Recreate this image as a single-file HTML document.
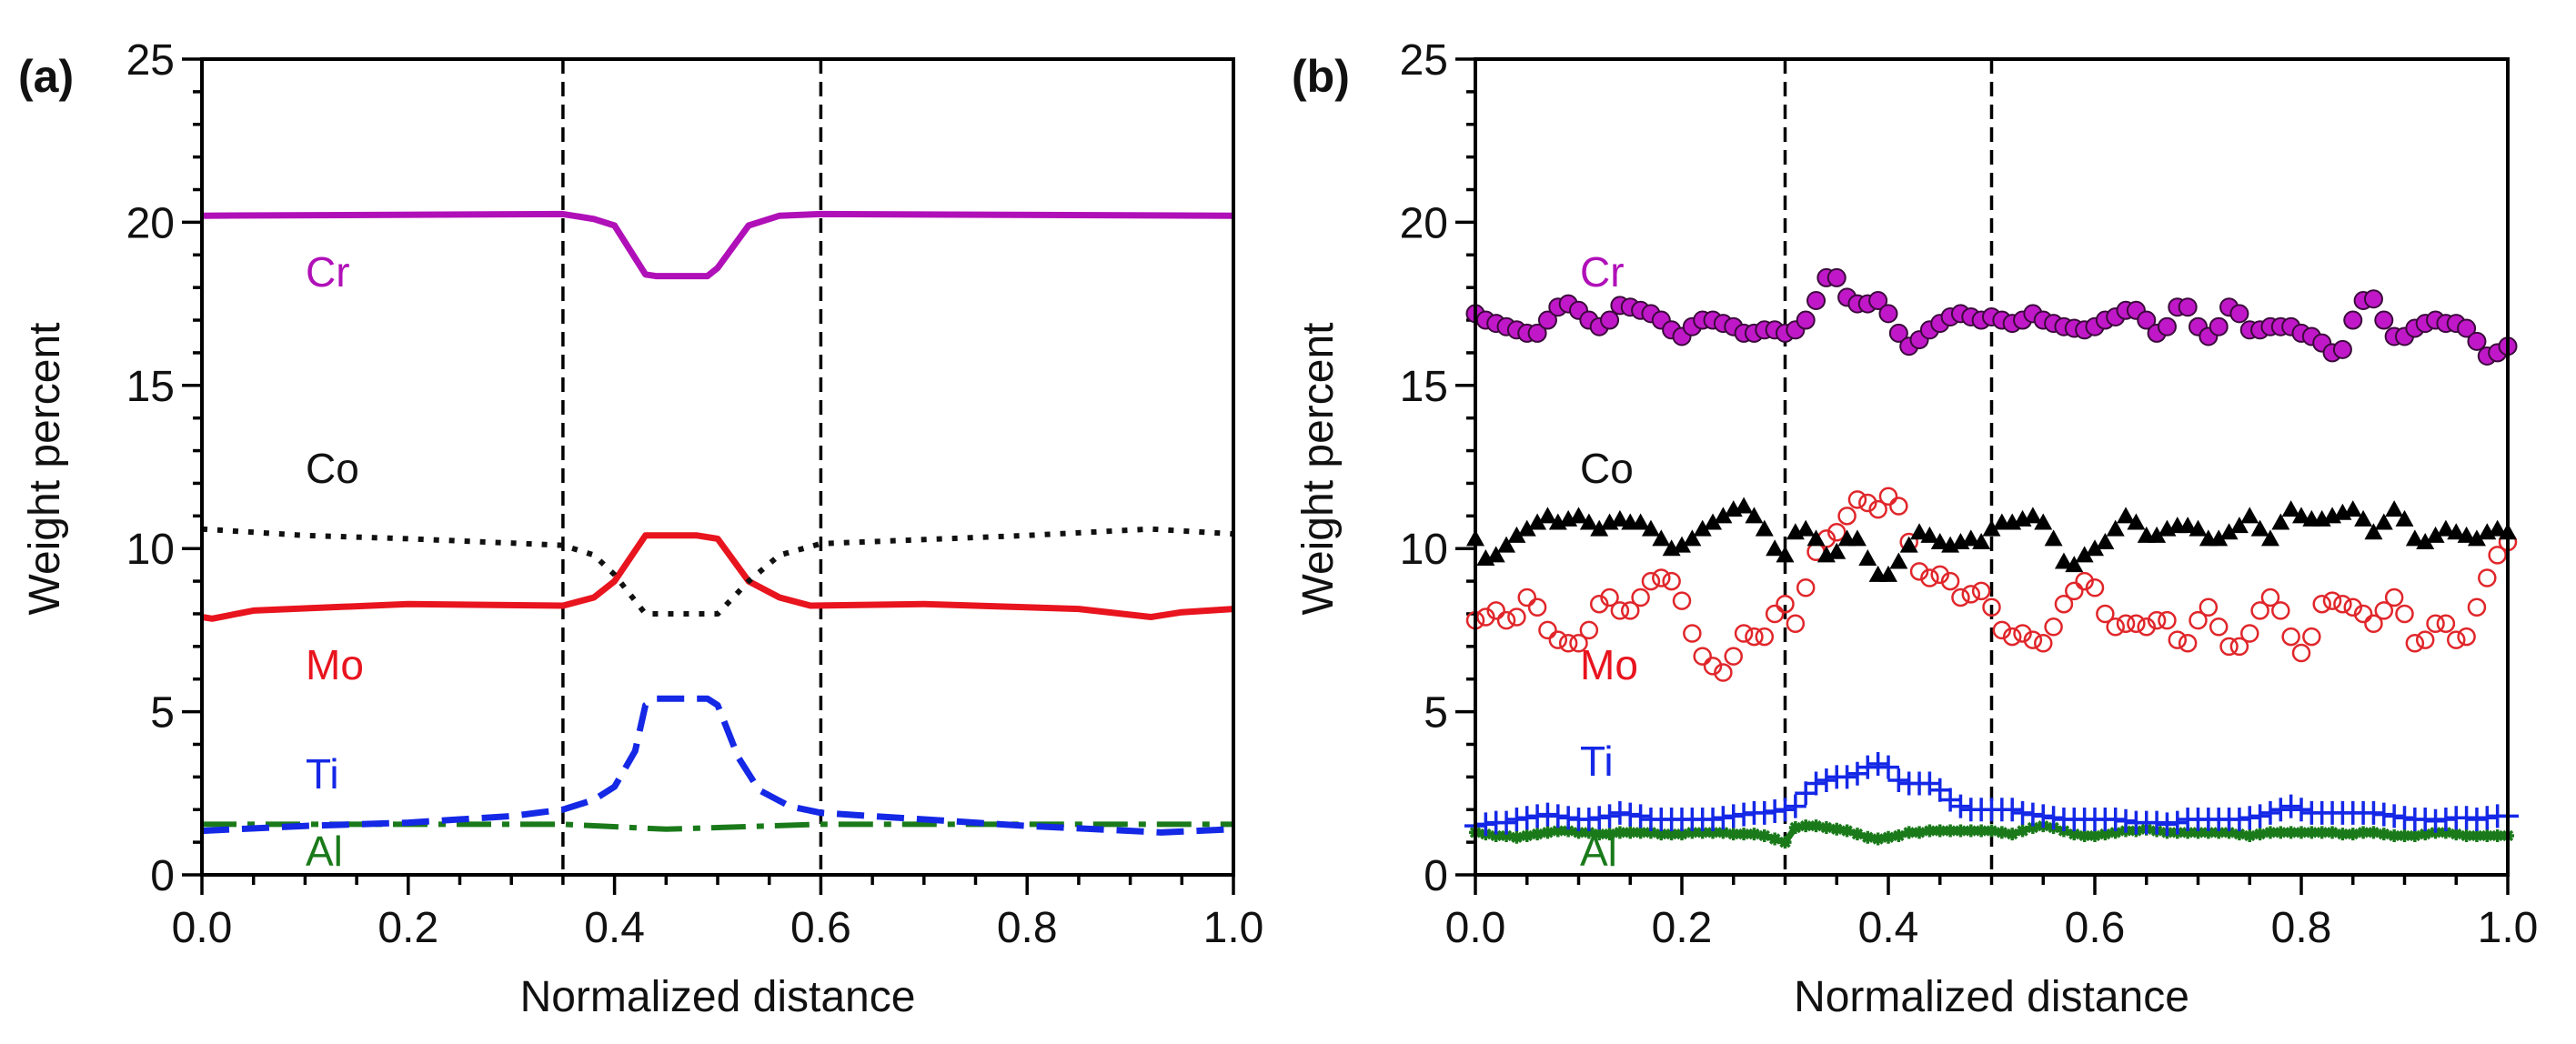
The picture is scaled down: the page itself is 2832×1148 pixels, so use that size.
<!DOCTYPE html>
<html><head><meta charset="utf-8"><style>
html,body{margin:0;padding:0;background:#fff;}
svg{display:block;font-family:"Liberation Sans",Arial,sans-serif;}
</style></head><body>
<svg id="fig" width="2832" height="1148" viewBox="0 0 2832 1148" xmlns="http://www.w3.org/2000/svg">
<g id="pa"></g>
<g id="pb"></g>
</svg>
<script>
// ---- Panel (a) data ----
const aCrX=[0,0.35,0.38,0.40,0.43,0.44,0.49,0.50,0.53,0.56,0.60,1.0];
const aCrY=[20.2,20.25,20.1,19.9,18.4,18.35,18.35,18.6,19.9,20.2,20.25,20.2];
const aCoX=[0,0.1,0.2,0.35,0.38,0.40,0.43,0.50,0.53,0.56,0.60,0.8,0.92,1.0];
const aCoY=[10.6,10.4,10.3,10.1,9.8,9.2,8.0,8.0,9.0,9.8,10.15,10.4,10.6,10.45];
const aMoX=[0,0.01,0.05,0.2,0.35,0.38,0.40,0.43,0.48,0.50,0.53,0.56,0.59,0.7,0.85,0.92,0.95,1.0];
const aMoY=[7.9,7.85,8.1,8.3,8.25,8.5,9.0,10.4,10.4,10.3,9.0,8.5,8.25,8.3,8.15,7.9,8.05,8.15];
const aTiX=[0,0.1,0.2,0.3,0.35,0.38,0.40,0.42,0.43,0.44,0.49,0.50,0.52,0.54,0.57,0.60,0.7,0.8,0.9,0.93,1.0];
const aTiY=[1.35,1.5,1.6,1.8,2.0,2.3,2.7,3.8,5.2,5.4,5.4,5.2,3.6,2.6,2.1,1.9,1.7,1.5,1.35,1.3,1.4];
const aAlX=[0,0.35,0.45,0.50,0.60,1.0];
const aAlY=[1.55,1.55,1.4,1.45,1.55,1.55];
const aBounds=[0.35,0.6];
// ---- Panel (b) data (x step 0.01, 0..1) ----
const bCr=[17.2,17.0,16.9,16.8,16.7,16.6,16.6,17.0,17.4,17.5,17.3,17.0,16.8,17.0,17.45,17.4,17.3,17.2,17.0,16.7,16.5,16.8,17.0,17.0,16.9,16.8,16.6,16.6,16.7,16.7,16.6,16.7,17.0,17.6,18.3,18.3,17.7,17.5,17.5,17.6,17.2,16.6,16.2,16.4,16.7,16.9,17.1,17.2,17.1,17.0,17.1,17.0,16.9,17.0,17.2,17.0,16.9,16.8,16.75,16.7,16.8,17.0,17.1,17.3,17.3,17.0,16.6,16.8,17.4,17.4,16.8,16.5,16.8,17.4,17.2,16.7,16.7,16.8,16.8,16.8,16.6,16.5,16.3,16.0,16.1,17.0,17.6,17.65,17.0,16.5,16.5,16.75,16.9,17.0,16.9,16.9,16.75,16.35,15.9,16.0,16.2];
const bCo=[10.3,9.7,9.8,10.1,10.4,10.6,10.8,11.0,10.8,10.9,11.0,10.8,10.6,10.8,10.9,10.8,10.8,10.6,10.3,10.0,10.1,10.3,10.6,10.8,11.0,11.2,11.3,11.0,10.6,10.0,9.8,10.5,10.6,10.3,9.8,9.9,10.3,10.3,9.7,9.2,9.2,9.6,10.1,10.5,10.4,10.2,10.1,10.2,10.3,10.2,10.6,10.8,10.8,10.9,11.0,10.8,10.3,9.6,9.5,9.8,10.0,10.2,10.6,11.0,10.8,10.4,10.4,10.6,10.7,10.7,10.6,10.3,10.3,10.5,10.7,11.0,10.6,10.3,10.8,11.2,11.0,10.9,10.9,11.0,11.1,11.2,10.9,10.5,10.8,11.2,10.9,10.3,10.2,10.4,10.6,10.5,10.4,10.3,10.5,10.6,10.5];
const bMo=[7.8,7.9,8.1,7.8,7.9,8.5,8.2,7.5,7.2,7.1,7.1,7.5,8.3,8.5,8.1,8.1,8.5,9.0,9.1,9.0,8.4,7.4,6.7,6.4,6.2,6.7,7.4,7.3,7.3,8.0,8.3,7.7,8.8,9.9,10.3,10.5,11.0,11.5,11.4,11.2,11.6,11.3,10.2,9.3,9.1,9.2,9.0,8.5,8.6,8.7,8.2,7.5,7.3,7.4,7.2,7.1,7.6,8.3,8.7,9.0,8.8,8.0,7.6,7.7,7.7,7.6,7.8,7.8,7.2,7.1,7.8,8.2,7.6,7.0,7.0,7.4,8.1,8.5,8.1,7.3,6.8,7.3,8.3,8.4,8.3,8.2,8.0,7.7,8.1,8.5,8.0,7.1,7.2,7.7,7.7,7.2,7.3,8.2,9.1,9.8,10.2];
const bTi=[1.5,1.55,1.6,1.6,1.7,1.75,1.8,1.85,1.8,1.75,1.7,1.7,1.75,1.8,1.9,1.85,1.8,1.7,1.7,1.7,1.7,1.7,1.7,1.7,1.75,1.8,1.85,1.9,1.9,1.95,2.0,2.1,2.5,2.8,2.9,3.0,3.0,3.1,3.3,3.4,3.3,2.9,2.8,2.8,2.8,2.6,2.3,2.1,2.0,2.0,2.0,2.0,2.0,1.9,1.85,1.8,1.75,1.7,1.7,1.7,1.7,1.7,1.7,1.65,1.6,1.6,1.6,1.55,1.6,1.7,1.7,1.7,1.7,1.7,1.7,1.75,1.8,1.9,2.0,2.1,2.0,1.9,1.9,1.9,1.9,1.9,1.9,1.9,1.85,1.8,1.75,1.7,1.7,1.65,1.7,1.75,1.75,1.7,1.75,1.8,1.8];
const bAl=[1.3,1.25,1.2,1.2,1.15,1.2,1.25,1.3,1.35,1.35,1.3,1.3,1.25,1.25,1.3,1.3,1.3,1.3,1.25,1.25,1.25,1.3,1.3,1.3,1.3,1.25,1.25,1.25,1.2,1.1,1.0,1.45,1.5,1.5,1.45,1.4,1.35,1.25,1.15,1.1,1.15,1.2,1.3,1.3,1.35,1.35,1.35,1.35,1.35,1.35,1.35,1.3,1.25,1.35,1.45,1.5,1.45,1.35,1.25,1.2,1.2,1.25,1.3,1.35,1.35,1.4,1.35,1.3,1.3,1.3,1.3,1.3,1.3,1.3,1.25,1.2,1.25,1.3,1.3,1.3,1.3,1.3,1.3,1.3,1.25,1.25,1.3,1.3,1.25,1.2,1.2,1.2,1.25,1.3,1.3,1.25,1.2,1.2,1.2,1.2,1.2];
const bBounds=[0.3,0.5];
const yTicks=["0","5","10","15","20","25"];
const xTicks=["0.0","0.2","0.4","0.6","0.8","1.0"];

const NS="http://www.w3.org/2000/svg";
function mk(parent,tag,attrs,text){const e=document.createElementNS(NS,tag);for(const k in attrs)e.setAttribute(k,attrs[k]);if(text!==undefined)e.textContent=text;parent.appendChild(e);return e;}
const Y0=962,Y25=65;
function ys(v){return Y0+(Y25-Y0)*v/25;}
function axes(g,x0,x1,letter,bounds){
  const xs=v=>x0+(x1-x0)*v;
  // ticks
  for(let i=0;i<=25;i++){const major=i%5===0;const t=mk(g,'line',{x1:x0-(major?22:10),x2:x0,y1:ys(i),y2:ys(i),stroke:'#000','stroke-width':3.5});
    
    }
  for(let i=0;i<=20;i++){const major=i%4===0;const t=mk(g,'line',{x1:xs(i/20),x2:xs(i/20),y1:Y0,y2:Y0+(major?22:11),stroke:'#000','stroke-width':3.5});
    
    }
  yTicks.forEach((s,i)=>{const t=mk(g,'text',{x:x0-30,y:ys(i*5)+17,'font-size':48,'text-anchor':'end',fill:'#111'},s);
    
    });
  xTicks.forEach((s,i)=>{const t=mk(g,'text',{x:xs(i*0.2),y:1036,'font-size':48,'text-anchor':'middle',fill:'#111'},s);
    
    });
  const xt=mk(g,'text',{x:(x0+x1)/2,y:1112,'font-size':48,'text-anchor':'middle',fill:'#111'},'Normalized distance');
  
  
  const cy=(Y0+Y25)/2+2, cx=x0-157;
  const yt=mk(g,'text',{x:cx,y:cy,'font-size':48,'text-anchor':'middle',fill:'#111',transform:`rotate(-90 ${cx} ${cy})`},'Weight percent');
  
  
  const pl=mk(g,'text',{x:x0-202,y:101,'font-size':50,'font-weight':'bold',fill:'#111'},letter);
  
  
  bounds.forEach(b=>{const l=mk(g,'line',{x1:xs(b),x2:xs(b),y1:Y25,y2:Y0,stroke:'#000','stroke-width':3.5,'stroke-dasharray':'16 9'});
    
    });
  return xs;
}
function frame(g,x0,x1){const r=mk(g,'rect',{x:x0,y:Y25,width:x1-x0,height:Y0-Y25,fill:'none',stroke:'#000','stroke-width':4});
  
  }
function label(g,x,y,s,c,name){const t=mk(g,'text',{x:x,y:y,'font-size':46,fill:c},s);
  
  }

// Panel a
const ga=document.getElementById('pa');
const xa=axes(ga,222,1356,'(a)',aBounds);
function line(g,X,Y,xs,st,name){const d=X.map((x,i)=>(i?'L':'M')+xs(x).toFixed(1)+' '+ys(Y[i]).toFixed(1)).join(' ');
  const p=mk(g,'path',Object.assign({d:d,fill:'none','stroke-linejoin':'round'},st));
  
  }
line(ga,aAlX,aAlY,xa,{stroke:'#1a7a1a','stroke-width':6,'stroke-dasharray':'38 12 8 12'},'al-line');
line(ga,aTiX,aTiY,xa,{stroke:'#1428e6','stroke-width':7,'stroke-dasharray':'30 14'},'ti-line');
line(ga,aMoX,aMoY,xa,{stroke:'#e8141e','stroke-width':7},'mo-line');
line(ga,aCoX,aCoY,xa,{stroke:'#111','stroke-width':6,'stroke-dasharray':'6 11'},'co-line');
line(ga,aCrX,aCrY,xa,{stroke:'#b010b8','stroke-width':7},'cr-line');
frame(ga,222,1356);
label(ga,336,315,'Cr','#b010b8','cr-label');
label(ga,336,531,'Co','#111','co-label');
label(ga,336,747,'Mo','#e8141e','mo-label');
label(ga,336,867,'Ti','#1428e6','ti-label');
label(ga,336,952,'Al','#1a7a1a','al-label');

// Panel b
const gb=document.getElementById('pb');
const xb=axes(gb,1622,2757,'(b)',bBounds);
const xi=i=>i/100;
// Al
bAl.forEach((v,i)=>{if(i<bAl.length-1){const l=mk(gb,'line',{x1:xb(xi(i)),y1:ys(v),x2:xb(xi(i+1)),y2:ys(bAl[i+1]),stroke:'#1a7a1a','stroke-width':7});
  
  }
  const s=mk(gb,'path',{d:`M${xb(xi(i))-7} ${ys(v)}h14M${xb(xi(i))} ${ys(v)-7}v14M${xb(xi(i))-5} ${ys(v)-5}l10 10M${xb(xi(i))+5} ${ys(v)-5}l-10 10`,stroke:'#1a7a1a','stroke-width':3.5});
  
  });
// Ti
bTi.forEach((v,i)=>{const x=xb(xi(i)),y=ys(v);
  const p=mk(gb,'path',{d:`M${x-12} ${y}h24M${x} ${y-13}v26`,stroke:'#1428e6','stroke-width':3.5});
  
  });
// Mo
bMo.forEach((v,i)=>{const c=mk(gb,'circle',{cx:xb(xi(i)),cy:ys(v),r:9,fill:'none',stroke:'#e0262a','stroke-width':2.5});
  
  });
// Co
bCo.forEach((v,i)=>{const x=xb(xi(i)),y=ys(v);
  const p=mk(gb,'path',{d:`M${x} ${y-10}L${x+10} ${y+8}L${x-10} ${y+8}Z`,fill:'#000'});
  
  });
// Cr
bCr.forEach((v,i)=>{const c=mk(gb,'circle',{cx:xb(xi(i)),cy:ys(v),r:9.5,fill:'#c018c8',stroke:'#3a0a3a','stroke-width':2});
  
  });
frame(gb,1622,2757);
label(gb,1737,315,'Cr','#b010b8','cr-label');
label(gb,1737,531,'Co','#111','co-label');
label(gb,1737,747,'Mo','#e8141e','mo-label');
label(gb,1737,853,'Ti','#1428e6','ti-label');
label(gb,1737,952,'Al','#1a7a1a','al-label');
</script>
</body></html>
